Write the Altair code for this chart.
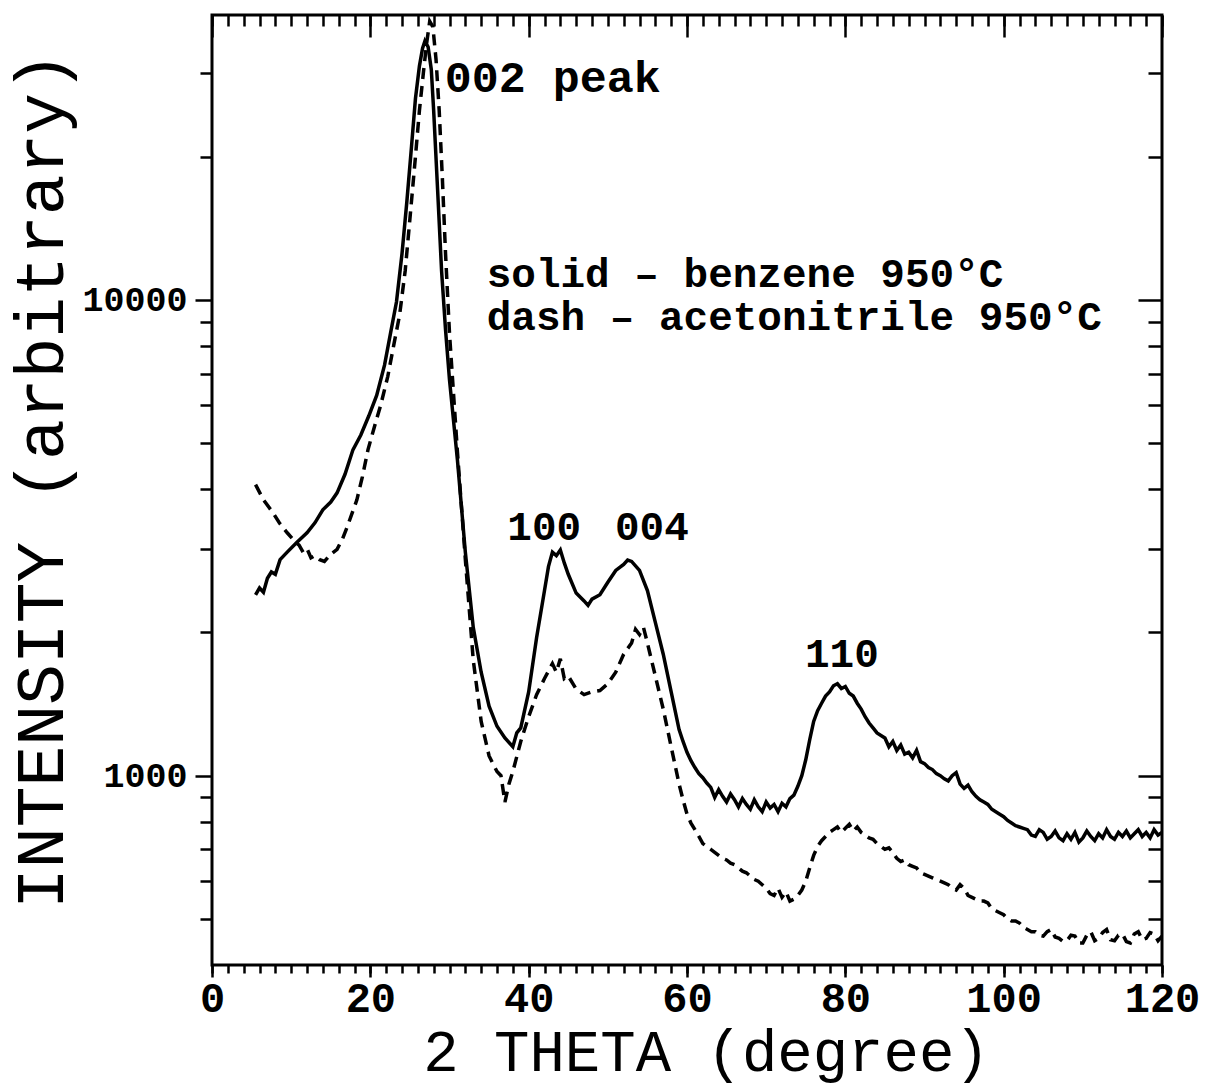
import altair as alt
import pandas as pd

# ---- data: (2 theta, intensity) ----
benzene = [
    (5.5, 2400), (6.0, 2480), (6.5, 2430), (7.0, 2600), (7.5, 2680), (8.0, 2650), (8.6, 2845),
    (9.5, 2950), (10.7, 3090), (12.0, 3240), (13.0, 3400), (14.0, 3620), (15.0, 3760), (15.8, 3930),
    (16.8, 4300), (17.8, 4840), (18.8, 5200), (19.8, 5700), (20.8, 6300), (21.8, 7300), (22.6, 8600),
    (23.3, 9900), (24.0, 12500), (24.6, 16000), (25.2, 21000), (25.7, 26500), (26.2, 31000),
    (26.6, 33800), (26.9, 35000), (27.3, 34000), (27.7, 30500), (28.0, 25000), (28.5, 17000),
    (29.0, 11500), (29.5, 8650), (30.0, 6790), (31.0, 4610), (32.0, 2950), (33.0, 2050), (34.0, 1650),
    (35.0, 1400), (36.0, 1270), (37.0, 1200), (38.0, 1150), (38.5, 1230), (39.0, 1260), (40.0, 1500),
    (41.0, 1950), (42.0, 2450), (42.5, 2750), (43.0, 2950), (43.5, 2900), (44.0, 2980), (44.5, 2800),
    (45.0, 2650), (46.0, 2420), (47.0, 2330), (47.5, 2280), (48.0, 2350), (49.0, 2400), (50.0, 2550),
    (51.0, 2700), (52.0, 2780), (52.5, 2840), (53.0, 2820), (54.0, 2700), (55.0, 2450), (56.0, 2100),
    (57.0, 1800), (58.0, 1500), (59.0, 1250), (59.5, 1180),
    (60.0, 1120), (60.5, 1075), (61.0, 1040), (61.5, 1010), (62.0, 990), (62.5, 965), (63.0, 945),
    (63.5, 900), (64.0, 935), (64.5, 905), (65.0, 880), (65.5, 915), (66.0, 890), (66.5, 860),
    (67.0, 895), (67.5, 870), (68.0, 850), (68.5, 890), (69.0, 860), (69.5, 840), (70.0, 880),
    (70.5, 855), (71.0, 870), (71.5, 840), (72.0, 875), (72.5, 860), (73.0, 895), (73.5, 910),
    (74.0, 950), (74.5, 1000), (75.0, 1080), (75.5, 1190), (76.0, 1300), (76.5, 1370), (77.0, 1420),
    (77.5, 1470), (78.0, 1500), (78.5, 1545), (79.0, 1560), (79.5, 1525), (80.0, 1540), (80.5, 1490),
    (81.0, 1470), (81.5, 1420), (82.0, 1380), (82.5, 1330), (83.0, 1290), (83.5, 1260), (84.0, 1230),
    (84.5, 1215), (85.0, 1200), (85.5, 1150), (86.0, 1180), (86.5, 1130), (87.0, 1160), (87.5, 1110),
    (88.0, 1120), (88.5, 1090), (89.0, 1130), (89.5, 1070), (90.0, 1060), (90.5, 1040), (91.0, 1030),
    (91.5, 1010), (92.0, 1000), (92.5, 985), (93.0, 975), (93.5, 1000), (94.0, 1015), (94.5, 960),
    (95.0, 940), (95.5, 955), (96.0, 925), (96.5, 905), (97.0, 890), (97.5, 880), (98.0, 870),
    (98.5, 850), (99.0, 840), (99.5, 830), (100.0, 820), (100.5, 805), (101.0, 795), (101.5, 785),
    (102.0, 780), (102.5, 775), (103.0, 770), (103.5, 750), (104.0, 745), (104.5, 770), (105.0, 760),
    (105.5, 735), (106.0, 745), (106.5, 765), (107.0, 740), (107.5, 730), (108.0, 755), (108.5, 735),
    (109.0, 760), (109.5, 725), (110.0, 740), (110.5, 765), (111.0, 745), (111.5, 730), (112.0, 755),
    (112.5, 740), (113.0, 770), (113.5, 745), (114.0, 735), (114.5, 760), (115.0, 745), (115.5, 765),
    (116.0, 740), (116.5, 755), (117.0, 770), (117.5, 745), (118.0, 760), (118.5, 740), (119.0, 770),
    (119.5, 750), (120.0, 760),
]

acetonitrile = [
    (5.5, 4090), (6.5, 3800), (7.7, 3570), (8.5, 3400), (9.5, 3240), (10.5, 3100), (11.0, 3050),
    (11.5, 2950), (12.0, 3000), (12.5, 2870), (13.0, 2900), (13.6, 2845), (14.2, 2820), (15.0, 2920),
    (15.8, 2990), (16.5, 3150), (17.1, 3340), (18.3, 3800), (19.0, 4250), (19.7, 4840), (20.5, 5400),
    (21.3, 6000), (22.2, 6900), (23.0, 8100), (23.7, 9300), (24.4, 11500), (25.0, 14800),
    (25.7, 20000), (26.2, 25000), (26.7, 30000), (27.1, 34500), (27.5, 38500), (27.9, 37500),
    (28.3, 32000), (28.7, 25000), (29.1, 18000), (29.5, 12500), (30.0, 8500), (31.0, 4800),
    (32.0, 2850), (33.0, 1750), (34.0, 1300), (35.0, 1100), (36.0, 1020), (36.5, 1000), (37.0, 880),
    (37.5, 960), (38.0, 1020), (39.0, 1180), (40.0, 1330), (41.0, 1480), (42.0, 1600), (43.0, 1720),
    (43.5, 1650), (44.0, 1760), (44.5, 1600), (45.0, 1620), (46.0, 1520), (47.0, 1480), (48.0, 1500),
    (49.0, 1510), (50.0, 1560), (51.0, 1650), (52.0, 1800), (53.0, 1900), (53.5, 2030), (54.0, 1980),
    (54.5, 2050), (55.0, 1900), (56.0, 1620), (57.0, 1380), (58.0, 1150), (59.0, 960), (59.5, 890),
    (60.0, 830), (60.5, 795), (61.0, 770), (61.5, 745), (62.0, 720), (62.5, 710), (63.0, 700),
    (63.5, 690), (64.0, 680), (64.5, 670), (65.0, 665), (65.5, 655), (66.0, 650), (66.5, 640),
    (67.0, 630), (67.5, 625), (68.0, 615), (68.5, 605), (69.0, 600), (69.5, 590), (70.0, 580),
    (70.5, 565), (71.0, 560), (71.5, 580), (72.0, 555), (72.5, 570), (73.0, 545), (73.5, 550),
    (74.0, 560), (74.5, 575), (75.0, 600), (75.5, 640), (76.0, 680), (76.5, 710), (77.0, 730),
    (77.5, 745), (78.0, 760), (78.5, 770), (79.0, 780), (79.5, 760), (80.0, 775), (80.5, 790),
    (81.0, 765), (81.5, 780), (82.0, 760), (82.5, 750), (83.0, 740), (83.5, 735), (84.0, 720),
    (84.5, 710), (85.0, 700), (85.5, 705), (86.0, 690), (86.5, 670), (87.0, 660), (87.5, 665),
    (88.0, 650), (88.5, 645), (89.0, 640), (89.5, 625), (90.0, 620), (90.5, 615), (91.0, 610),
    (91.5, 605), (92.0, 600), (92.5, 595), (93.0, 590), (93.5, 580), (94.0, 575), (94.5, 590),
    (95.0, 580), (95.5, 560), (96.0, 555), (96.5, 550), (97.0, 545), (97.5, 545), (98.0, 540),
    (98.5, 525), (99.0, 520), (99.5, 515), (100.0, 510), (100.5, 500), (101.0, 495), (101.5, 495),
    (102.0, 490), (102.5, 480), (103.0, 475), (103.5, 470), (104.0, 470), (104.5, 462), (105.0, 460),
    (105.5, 470), (106.0, 475), (106.5, 458), (107.0, 455), (107.5, 448), (108.0, 450), (108.5, 462),
    (109.0, 460), (109.5, 445), (110.0, 445), (110.5, 462), (111.0, 470), (111.5, 450), (112.0, 455),
    (112.5, 468), (113.0, 475), (113.5, 452), (114.0, 450), (114.5, 462), (115.0, 465), (115.5, 448),
    (116.0, 445), (116.5, 465), (117.0, 470), (117.5, 452), (118.0, 455), (118.5, 468), (119.0, 465),
    (119.5, 450), (120.0, 460),
]

peak_label = ["002 peak"]
peak_theta = [29.4]
peak_intensity = [27350]

hkl_labels = ["100", "004", "110"]
hkl_theta = [37.3, 50.9, 74.9]
hkl_intensity = [3135, 3135, 1695]

legend_lines = ["solid \u2013 benzene 950\u00b0C", "dash  \u2013 acetonitrile 950\u00b0C"]
legend_theta = [34.7, 34.7]
legend_intensity = [10650, 8650]

x_major = [0, 20, 40, 60, 80, 100, 120]
x_minor = [0, 2, 4, 6, 8, 10, 12, 14, 16, 18, 20, 22, 24, 26, 28, 30, 32, 34, 36, 38, 40,
           42, 44, 46, 48, 50, 52, 54, 56, 58, 60, 62, 64, 66, 68, 70, 72, 74, 76, 78, 80,
           82, 84, 86, 88, 90, 92, 94, 96, 98, 100, 102, 104, 106, 108, 110, 112, 114, 116, 118, 120]
y_major = [1000, 10000]
y_minor = [500, 600, 700, 800, 900, 2000, 3000, 4000, 5000, 6000, 7000, 8000, 9000, 20000, 30000]

# ---- frames ----
df_b = pd.DataFrame(benzene, columns=["theta", "intensity"])
df_a = pd.DataFrame(acetonitrile, columns=["theta", "intensity"])
df_peak = pd.DataFrame({"theta": peak_theta, "intensity": peak_intensity, "label": peak_label})
df_hkl = pd.DataFrame({"theta": hkl_theta, "intensity": hkl_intensity, "label": hkl_labels})
df_leg = pd.DataFrame({"theta": legend_theta, "intensity": legend_intensity, "label": legend_lines})

xscale = alt.Scale(domain=[0, 120], nice=False, zero=False)
yscale = alt.Scale(type="log", domain=[400, 39700], nice=False)

MONO = "Liberation Mono"


def tick_axis(orient, values, size, offset=0):
    return alt.Axis(orient=orient, values=values, labels=False, title=None, domain=False,
                    grid=False, tickSize=size, tickWidth=2.5, tickColor="black", offset=offset)


solid = alt.Chart(df_b).mark_line(color="black", strokeWidth=3.5, clip=True).encode(
    x=alt.X("theta:Q", scale=xscale,
            axis=alt.Axis(orient="bottom", values=x_major, title="2 THETA (degree)", domain=False,
                          grid=False, tickSize=12, tickWidth=2.5, tickColor="black",
                          labelFont=MONO, labelFontWeight="bold", labelFontSize=42,
                          labelColor="black", labelPadding=1, labelFlush=False, labelOverlap=False,
                          format="d",
                          titleFont=MONO, titleFontWeight="normal", titleFontSize=59,
                          titleColor="black", titleX=494, titleY=105, titleAlign="center",
                          titleBaseline="alphabetic")),
    y=alt.Y("intensity:Q", scale=yscale,
            axis=alt.Axis(orient="left", values=y_major, title="INTENSITY (arbitrary)", domain=False,
                          grid=False, tickSize=17, tickWidth=2.5, tickColor="black",
                          labelFont=MONO, labelFontWeight="bold", labelFontSize=35,
                          labelColor="black", labelPadding=8, labelFlush=False, labelOverlap=False,
                          format="d",
                          titleFont=MONO, titleFontWeight="normal", titleFontSize=68,
                          titleColor="black", titleX=-150, titleY=465, titleAlign="center",
                          titleAngle=270, titleBaseline="alphabetic")),
)

dashed = alt.Chart(df_a).mark_line(color="black", strokeWidth=3.5, strokeDash=[11, 7], clip=True).encode(
    x=alt.X("theta:Q", scale=xscale, axis=tick_axis("bottom", x_minor, 8)),
    y=alt.Y("intensity:Q", scale=yscale, axis=tick_axis("left", y_minor, 12)),
)

peak_text = alt.Chart(df_peak).mark_text(
    font=MONO, fontWeight="bold", fontSize=45, align="left", baseline="alphabetic", color="black"
).encode(
    x=alt.X("theta:Q", scale=xscale, axis=tick_axis("top", x_minor, 11, -11)),
    y=alt.Y("intensity:Q", scale=yscale, axis=tick_axis("right", y_minor, 14, -14)),
    text="label:N",
)

hkl_text = alt.Chart(df_hkl).mark_text(
    font=MONO, fontWeight="bold", fontSize=41, align="left", baseline="alphabetic", color="black"
).encode(
    x=alt.X("theta:Q", scale=xscale, axis=tick_axis("top", x_major, 22, -22)),
    y=alt.Y("intensity:Q", scale=yscale, axis=tick_axis("right", y_major, 24, -24)),
    text="label:N",
)

legend_text = alt.Chart(df_leg).mark_text(
    font=MONO, fontWeight="bold", fontSize=41, align="left", baseline="alphabetic", color="black"
).encode(
    x=alt.X("theta:Q", scale=xscale, axis=None),
    y=alt.Y("intensity:Q", scale=yscale, axis=None),
    text="label:N",
)

chart = alt.layer(solid, dashed, peak_text, hkl_text, legend_text).resolve_scale(
    x="shared", y="shared"
).resolve_axis(
    x="independent", y="independent"
).properties(
    width=950, height=950,
    autosize=alt.AutoSizeParams(type="none"),
    padding={"left": 212, "top": 15, "right": 43, "bottom": 126},
    background="white",
).configure_view(
    stroke="black", strokeWidth=3
)

chart.save("out.html", embed_options={"renderer": "svg", "actions": False})
